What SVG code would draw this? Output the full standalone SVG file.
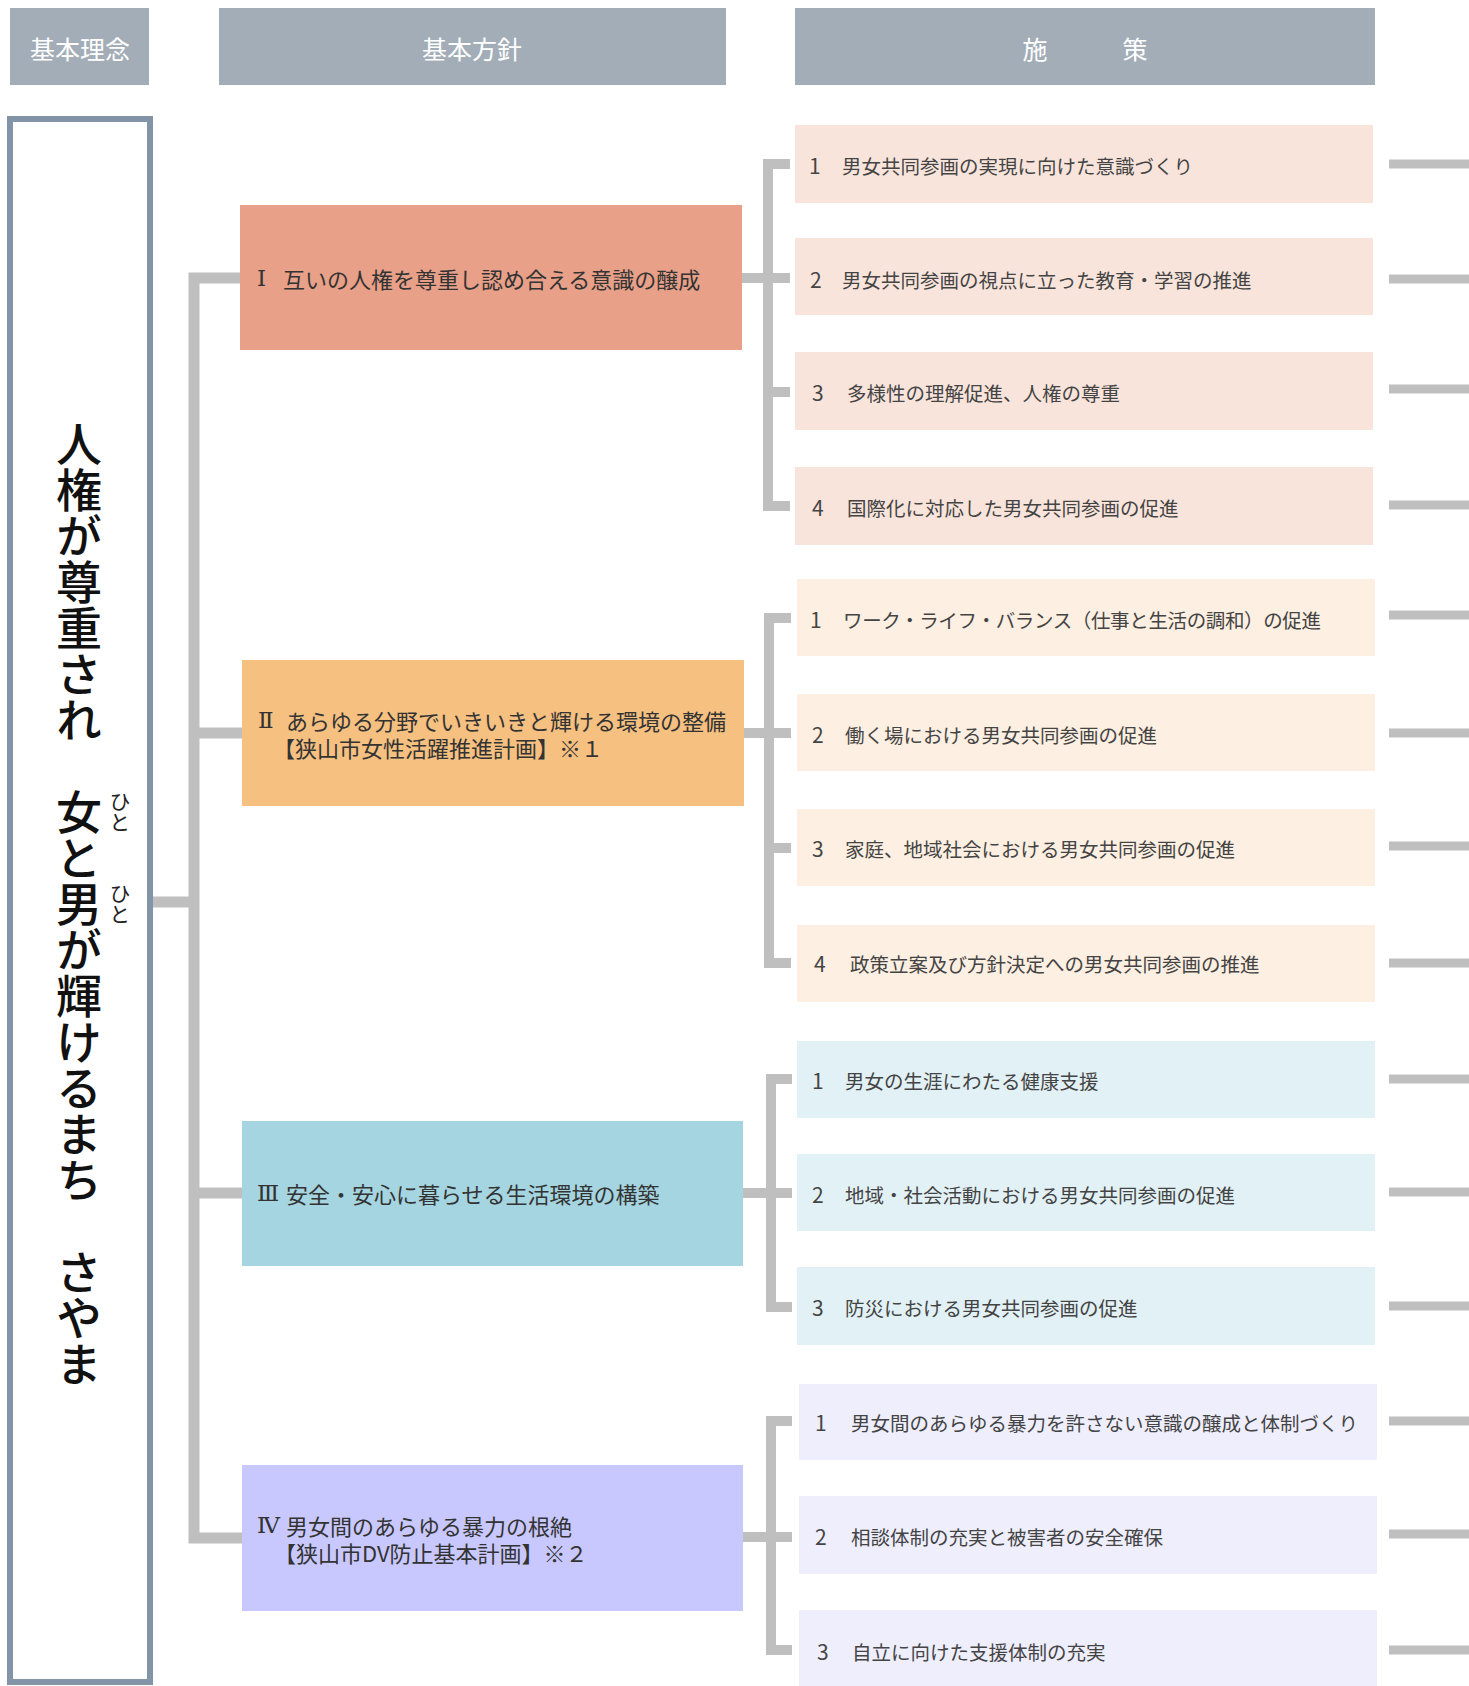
<svg xmlns="http://www.w3.org/2000/svg" width="1469" height="1686" viewBox="0 0 1469 1686">
<style>
.hdr{fill:#a3adb8}
.htx{fill:#ffffff;font-family:"Noto Sans CJK JP","Noto Sans",sans-serif;font-size:25px;text-anchor:middle;dominant-baseline:central}
.pol{font-family:"Noto Sans CJK JP","Noto Sans",sans-serif;font-size:22px;fill:#333333;dominant-baseline:central}
.rn{font-family:"DejaVu Serif","Liberation Serif","Noto Sans CJK JP",serif;font-size:23px}
.itm{font-family:"Noto Sans CJK JP","Noto Sans",sans-serif;font-size:19.5px;fill:#444444;dominant-baseline:central}
.num{font-size:21px}
.c1{fill:#f9e4dc}.c2{fill:#fdefe1}.c3{fill:#e2f1f5}.c4{fill:#eeeefd}
.con{fill:none;stroke:#bfbfbf;stroke-width:11;stroke-linejoin:miter}
.con2{fill:none;stroke:#bfbfbf;stroke-width:10;stroke-linejoin:miter}
.rst{fill:none;stroke:#bfbfbf;stroke-width:9}
.vt{font-family:"Noto Sans CJK JP",sans-serif;font-size:46px;fill:#111111;writing-mode:vertical-rl;font-weight:500}
.rb{font-family:"Noto Sans CJK JP",sans-serif;font-size:21px;fill:#222222;writing-mode:vertical-rl}
</style>
<rect width="1469" height="1686" fill="#ffffff"/>

<g id="headers">
<g id="h-rinen"><rect class="hdr" x="10" y="8" width="139" height="77"/><text class="htx" x="80" y="48">基本理念</text></g>
<g id="h-hoshin"><rect class="hdr" x="219" y="8" width="507" height="77"/><text class="htx" x="472" y="48">基本方針</text></g>
<g id="h-shisaku"><rect class="hdr" x="795" y="8" width="580" height="77"/><text class="htx" x="1085" y="48">施　　　策</text></g>
</g>

<g id="connectors">
<path class="con" d="M153,902 H194"/>
<path class="con" d="M240,278 H194 V1538 H243"/>
<path class="con" d="M194,733 H242"/>
<path class="con" d="M194,1193 H242"/>
<path class="con2" d="M790,164 H768 V506 H790"/>
<path class="con2" d="M742,278 H790"/>
<path class="con2" d="M768,392 H790"/>
<path class="con2" d="M791,618 H769 V963 H791"/>
<path class="con2" d="M744,733 H791"/>
<path class="con2" d="M769,848 H791"/>
<path class="con2" d="M792,1079 H771 V1307 H792"/>
<path class="con2" d="M743,1193 H792"/>
<path class="con2" d="M792,1421 H771 V1650 H792"/>
<path class="con2" d="M743,1537 H792"/>
<path class="rst" d="M1389,164 H1469 M1389,279 H1469 M1389,389 H1469 M1389,505 H1469 M1389,615 H1469 M1389,733 H1469 M1389,846 H1469 M1389,963 H1469 M1389,1079 H1469 M1389,1192 H1469 M1389,1306 H1469 M1389,1421 H1469 M1389,1534 H1469 M1389,1650 H1469"/>
</g>

<g id="rinen">
<rect x="10" y="119" width="140" height="1563" fill="#ffffff" stroke="#8393a8" stroke-width="6"/>
<text class="vt" x="79" y="421">人権が尊重され　女と男が輝けるまち　さやま</text>
<text class="rb" x="120" y="791">ひと</text>
<text class="rb" x="120" y="883">ひと</text>
</g>

<g id="policy-1"><rect x="240" y="205" width="502" height="145" fill="#e8a088"/>
<text class="pol" y="278"><tspan class="rn" x="257">Ⅰ</tspan><tspan x="283">互いの人権を尊重し認め合える意識の醸成</tspan></text></g>
<g id="policy-2"><rect x="242" y="660" width="502" height="146" fill="#f5c080"/>
<text class="pol" y="720"><tspan class="rn" x="258">Ⅱ</tspan><tspan x="286">あらゆる分野でいきいきと輝ける環境の整備</tspan><tspan x="273" dy="27">【狭山市女性活躍推進計画】※１</tspan></text></g>
<g id="policy-3"><rect x="242" y="1121" width="501" height="145" fill="#a5d5e0"/>
<text class="pol" y="1193"><tspan class="rn" x="257">Ⅲ</tspan><tspan x="286">安全・安心に暮らせる生活環境の構築</tspan></text></g>
<g id="policy-4"><rect x="242" y="1465" width="501" height="146" fill="#c8c8fe"/>
<text class="pol" y="1525"><tspan class="rn" x="257">Ⅳ</tspan><tspan x="286">男女間のあらゆる暴力の根絶</tspan><tspan x="274" dy="27">【狭山市DV防止基本計画】※２</tspan></text></g>

<g id="item-1-1"><rect class="c1" x="795" y="125" width="578" height="78"/><text class="itm" y="165"><tspan class="num" x="809">1</tspan><tspan x="842">男女共同参画の実現に向けた意識づくり</tspan></text></g>
<g id="item-1-2"><rect class="c1" x="795" y="238" width="578" height="77"/><text class="itm" y="279"><tspan class="num" x="810">2</tspan><tspan x="842">男女共同参画の視点に立った教育・学習の推進</tspan></text></g>
<g id="item-1-3"><rect class="c1" x="795" y="352" width="578" height="78"/><text class="itm" y="392"><tspan class="num" x="812">3</tspan><tspan x="847">多様性の理解促進、人権の尊重</tspan></text></g>
<g id="item-1-4"><rect class="c1" x="795" y="467" width="578" height="78"/><text class="itm" y="507"><tspan class="num" x="812">4</tspan><tspan x="847">国際化に対応した男女共同参画の促進</tspan></text></g>

<g id="item-2-1"><rect class="c2" x="797" y="579" width="578" height="77"/><text class="itm" y="619"><tspan class="num" x="810">1</tspan><tspan x="843" textLength="478" lengthAdjust="spacing">ワーク・ライフ・バランス（仕事と生活の調和）の促進</tspan></text></g>
<g id="item-2-2"><rect class="c2" x="797" y="694" width="578" height="77"/><text class="itm" y="734"><tspan class="num" x="812">2</tspan><tspan x="845">働く場における男女共同参画の促進</tspan></text></g>
<g id="item-2-3"><rect class="c2" x="797" y="809" width="578" height="77"/><text class="itm" y="848"><tspan class="num" x="812">3</tspan><tspan x="845">家庭、地域社会における男女共同参画の促進</tspan></text></g>
<g id="item-2-4"><rect class="c2" x="797" y="925" width="578" height="77"/><text class="itm" y="963"><tspan class="num" x="814">4</tspan><tspan x="850">政策立案及び方針決定への男女共同参画の推進</tspan></text></g>

<g id="item-3-1"><rect class="c3" x="797" y="1041" width="578" height="77"/><text class="itm" y="1080"><tspan class="num" x="812">1</tspan><tspan x="845">男女の生涯にわたる健康支援</tspan></text></g>
<g id="item-3-2"><rect class="c3" x="797" y="1154" width="578" height="77"/><text class="itm" y="1194"><tspan class="num" x="812">2</tspan><tspan x="845">地域・社会活動における男女共同参画の促進</tspan></text></g>
<g id="item-3-3"><rect class="c3" x="797" y="1267" width="578" height="78"/><text class="itm" y="1307"><tspan class="num" x="812">3</tspan><tspan x="845">防災における男女共同参画の促進</tspan></text></g>

<g id="item-4-1"><rect class="c4" x="799" y="1384" width="578" height="76"/><text class="itm" y="1422"><tspan class="num" x="815">1</tspan><tspan x="851">男女間のあらゆる暴力を許さない意識の醸成と体制づくり</tspan></text></g>
<g id="item-4-2"><rect class="c4" x="799" y="1496" width="578" height="78"/><text class="itm" y="1536"><tspan class="num" x="815">2</tspan><tspan x="851">相談体制の充実と被害者の安全確保</tspan></text></g>
<g id="item-4-3"><rect class="c4" x="799" y="1610" width="578" height="76"/><text class="itm" y="1651"><tspan class="num" x="817">3</tspan><tspan x="852">自立に向けた支援体制の充実</tspan></text></g>
</svg>
